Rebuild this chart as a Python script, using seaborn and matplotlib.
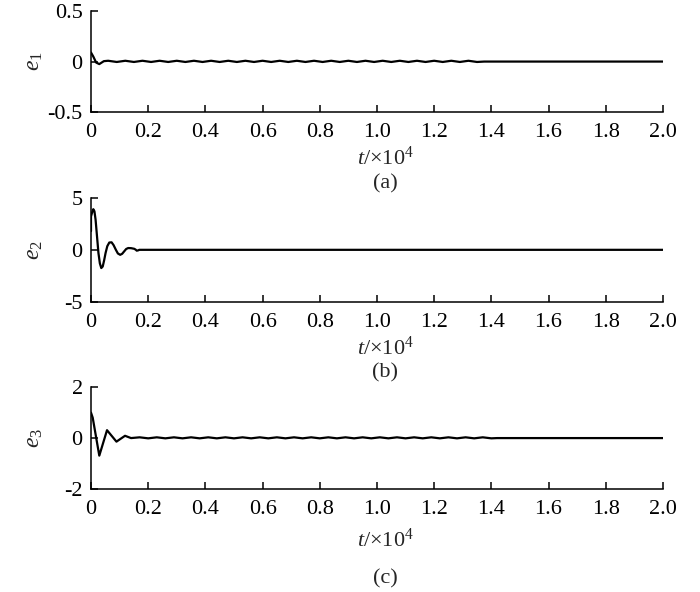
import numpy as np
import pandas as pd
import matplotlib
matplotlib.use('Agg')
import matplotlib.pyplot as plt
import seaborn as sns

# error curves (t in units of 1e4)
t1 = [0, 0.008, 0.018, 0.029, 0.045,
      0.06, 0.09, 0.12, 0.15, 0.18, 0.21, 0.24, 0.27, 0.30, 0.33, 0.36,
      0.39, 0.42, 0.45, 0.48, 0.51, 0.54, 0.57, 0.60, 0.63, 0.66, 0.69,
      0.72, 0.75, 0.78, 0.81, 0.84, 0.87, 0.90, 0.93, 0.96, 0.99, 1.02,
      1.05, 1.08, 1.11, 1.14, 1.17, 1.20, 1.23, 1.26, 1.29, 1.32, 1.35,
      1.375, 2.0]
e1 = [0.09, 0.05, -0.01, -0.025, 0.004,
      0.008, -0.004, 0.008, -0.004, 0.008, -0.004, 0.008, -0.004, 0.008, -0.004, 0.008,
      -0.004, 0.008, -0.004, 0.008, -0.004, 0.008, -0.004, 0.008, -0.004, 0.008, -0.004,
      0.008, -0.004, 0.008, -0.004, 0.008, -0.004, 0.008, -0.004, 0.008, -0.004, 0.008,
      -0.004, 0.008, -0.004, 0.008, -0.004, 0.008, -0.004, 0.008, -0.004, 0.008, -0.004,
      0.0, 0.0]

t2 = [0, 0, 0.004, 0.008, 0.012, 0.016, 0.021, 0.026, 0.031, 0.036, 0.041,
      0.046, 0.051, 0.057, 0.064, 0.072, 0.079, 0.087, 0.094,
      0.102, 0.109, 0.116, 0.123, 0.13, 0.14, 0.151, 0.156, 0.16, 0.165, 0.169, 2.0]
e2 = [1.8, 3.2, 3.6, 3.9, 3.7, 2.9, 1.3, -0.3, -1.3, -1.75, -1.6,
      -1.0, -0.3, 0.35, 0.7, 0.72, 0.45, 0.0, -0.35,
      -0.48, -0.38, -0.15, 0.08, 0.17, 0.16, 0.1, 0.02, -0.08, -0.05, 0.0, 0.0]

t3 = [0, 0.006, 0.029, 0.056, 0.089, 0.119, 0.14,
      0.17, 0.20, 0.23, 0.26, 0.29, 0.32, 0.35, 0.38, 0.41, 0.44, 0.47,
      0.50, 0.53, 0.56, 0.59, 0.62, 0.65, 0.68, 0.71, 0.74, 0.77, 0.80,
      0.83, 0.86, 0.89, 0.92, 0.95, 0.98, 1.01, 1.04, 1.07, 1.10, 1.13,
      1.16, 1.19, 1.22, 1.25, 1.28, 1.31, 1.34, 1.37, 1.40,
      1.42, 2.0]
e3 = [1.0, 0.8, -0.69, 0.31, -0.14, 0.09, 0.0,
      0.03, -0.01, 0.03, -0.01, 0.03, -0.01, 0.03, -0.01, 0.03, -0.01, 0.03,
      -0.01, 0.03, -0.01, 0.03, -0.01, 0.03, -0.01, 0.03, -0.01, 0.03, -0.01,
      0.03, -0.01, 0.03, -0.01, 0.03, -0.01, 0.03, -0.01, 0.03, -0.01, 0.03,
      -0.01, 0.03, -0.01, 0.03, -0.01, 0.03, -0.01, 0.03, -0.01,
      0.0, 0.0]

x_ticks = [0, 0.2, 0.4, 0.6, 0.8, 1.0, 1.2, 1.4, 1.6, 1.8, 2.0]
x_tick_labels = ['0', '0.2', '0.4', '0.6', '0.8', '1.0', '1.2', '1.4', '1.6', '1.8', '2.0']
y_ticks = [[-0.5, 0, 0.5], [-5, 0, 5], [-2, 0, 2]]
y_tick_labels = [['-0.5', '0', '0.5'], ['-5', '0', '5'], ['-2', '0', '2']]
y_names = [r'$e_1$', r'$e_2$', r'$e_3$']
captions = ['(a)', '(b)', '(c)']

sns.set_theme(style='ticks')
plt.rcParams['font.family'] = ['Liberation Serif', 'DejaVu Serif']
plt.rcParams['mathtext.fontset'] = 'custom'
plt.rcParams['mathtext.rm'] = 'Liberation Serif'
plt.rcParams['mathtext.it'] = 'Liberation Serif:italic'
plt.rcParams['axes.unicode_minus'] = False

fig = plt.figure(figsize=(7, 5.92), dpi=100)

# axes boxes [left, bottom, width, height] in figure fraction
boxes = [[0.130, 0.811, 0.817, 0.170],
         [0.130, 0.490, 0.817, 0.176],
         [0.130, 0.174, 0.817, 0.172]]
xlabel_y = [-0.34, -0.33, -0.39]
caption_y = [0.690, 0.370, 0.023]

series = [(t1, e1), (t2, e2), (t3, e3)]

for i, (tt, ee) in enumerate(series):
    ax = fig.add_axes(boxes[i])
    df = pd.DataFrame({'t': tt, 'e': ee})
    sns.lineplot(data=df, x='t', y='e', ax=ax, color='black', linewidth=1.6,
                 estimator=None, sort=False)
    ax.set_xlim(0, 2.0)
    ax.set_ylim(y_ticks[i][0], y_ticks[i][-1])
    ax.set_xticks(x_ticks)
    ax.set_xticklabels(x_tick_labels)
    ax.set_yticks(y_ticks[i])
    ax.set_yticklabels(y_tick_labels[i])
    ax.tick_params(direction='in', length=5, width=1.1, labelsize=16,
                   colors='black', pad=6)
    ax.tick_params(axis='x', pad=8)
    for side in ['left', 'bottom']:
        ax.spines[side].set_linewidth(1.1)
        ax.spines[side].set_color('black')
    sns.despine(ax=ax)
    ax.set_ylabel(y_names[i], fontsize=17)
    ax.yaxis.set_label_coords(-0.08, 0.5)
    ax.set_xlabel(r'$t$/×10$^4$', fontsize=16)
    ax.xaxis.set_label_coords(0.514, xlabel_y[i])
    fig.text(0.55, caption_y[i], captions[i], ha='center', va='center', fontsize=16)

fig.savefig('out.png', dpi=100)
